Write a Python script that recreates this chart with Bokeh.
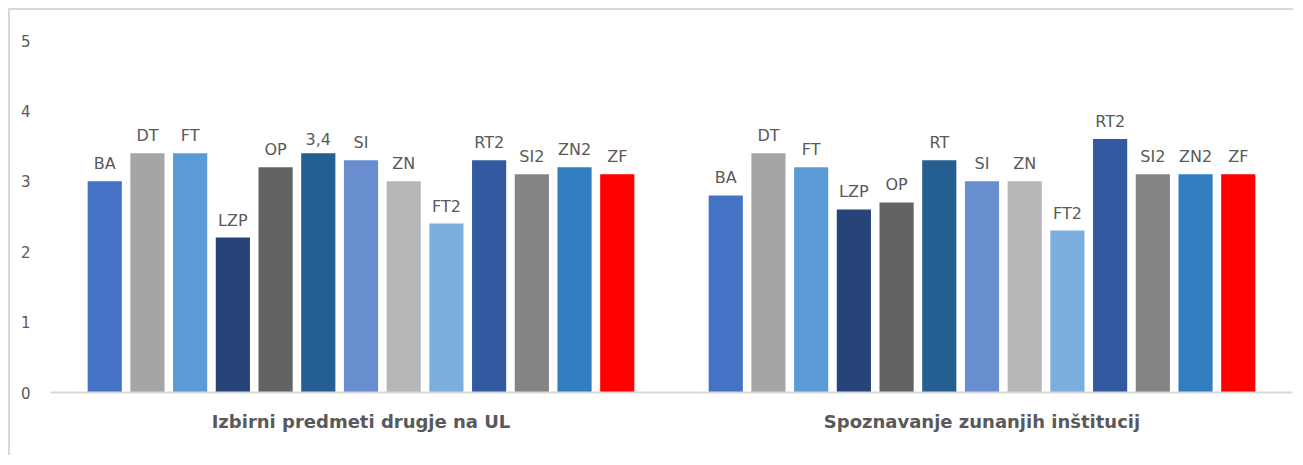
from bokeh.plotting import figure
from bokeh.models import FactorRange, Range1d, FixedTicker, ColumnDataSource, CategoricalAxis
from bokeh.core.properties import value
from bokeh.embed import file_html
from bokeh.resources import INLINE

groups = ["Izbirni predmeti drugje na UL", "Spoznavanje zunanjih inštitucij"]
cats = ["BA", "DT", "FT", "LZP", "OP", "RT", "SI", "ZN", "FT2", "RT2", "SI2", "ZN2", "ZF"]
values_g1 = [3.0, 3.4, 3.4, 2.2, 3.2, 3.4, 3.3, 3.0, 2.4, 3.3, 3.1, 3.2, 3.1]
values_g2 = [2.8, 3.4, 3.2, 2.6, 2.7, 3.3, 3.0, 3.0, 2.3, 3.6, 3.1, 3.1, 3.1]
labels_g1 = ["BA", "DT", "FT", "LZP", "OP", "3,4", "SI", "ZN", "FT2", "RT2", "SI2", "ZN2", "ZF"]
labels_g2 = ["BA", "DT", "FT", "LZP", "OP", "RT", "SI", "ZN", "FT2", "RT2", "SI2", "ZN2", "ZF"]
colors = ["#4472C4", "#A5A5A5", "#5B9BD5", "#264478", "#636363", "#255E91", "#698ED0",
          "#B7B7B7", "#7CAFDD", "#335AA1", "#848484", "#327DC2", "#FF0000"]
y_ticks = [0, 1, 2, 3, 4, 5]

x = [(g, c) for g in groups for c in cats]
src = ColumnDataSource(dict(
    x=x,
    top=values_g1 + values_g2,
    label=labels_g1 + labels_g2,
    color=colors + colors,
))

FONT = "DejaVu Sans"
TXT = "#595959"

p = figure(
    x_range=FactorRange(*x, group_padding=1.54, range_padding=0.77,
                        range_padding_units="absolute"),
    y_range=Range1d(0, 5),
    width=1285, height=447,
    output_backend="svg", toolbar_location=None,
    x_axis_location=None,
    min_border_left=40, min_border_right=3, min_border_top=30, min_border_bottom=65,
)
p.margin = (8, 0, 0, 8)
p.styles = {"border-top": "2px solid #d9d9d9", "border-left": "2px solid #d9d9d9"}
p.outline_line_color = None
p.grid.grid_line_color = None
p.background_fill_color = "white"
p.border_fill_color = "white"

# one factor per group: the two group centres coincide with the bar groups' centres
p.extra_x_ranges = {"groups": FactorRange(*groups)}

p.vbar(x="x", top="top", width=0.8, color="color", line_color=None, source=src)
p.text(x="x", y="top", text="label", source=src, text_align="center",
       text_baseline="bottom", y_offset=-8, text_font=value(FONT),
       text_font_size="16px", text_color=TXT)

ga = CategoricalAxis(x_range_name="groups")
ga.axis_line_color = "#d9d9d9"
ga.axis_line_width = 2
ga.major_tick_line_color = None
ga.minor_tick_line_color = None
ga.major_label_standoff = 12
ga.major_label_text_font = FONT
ga.major_label_text_font_size = "18px"
ga.major_label_text_font_style = "bold"
ga.major_label_text_color = TXT
p.add_layout(ga, "below")

ya = p.yaxis[0]
ya.ticker = FixedTicker(ticks=y_ticks)
ya.axis_line_color = None
ya.major_tick_line_color = None
ya.minor_tick_line_color = None
ya.major_label_text_font = FONT
ya.major_label_text_font_size = "15px"
ya.major_label_text_color = TXT
ya.major_label_standoff = 14

open("out.html", "w").write(file_html(p, INLINE))
